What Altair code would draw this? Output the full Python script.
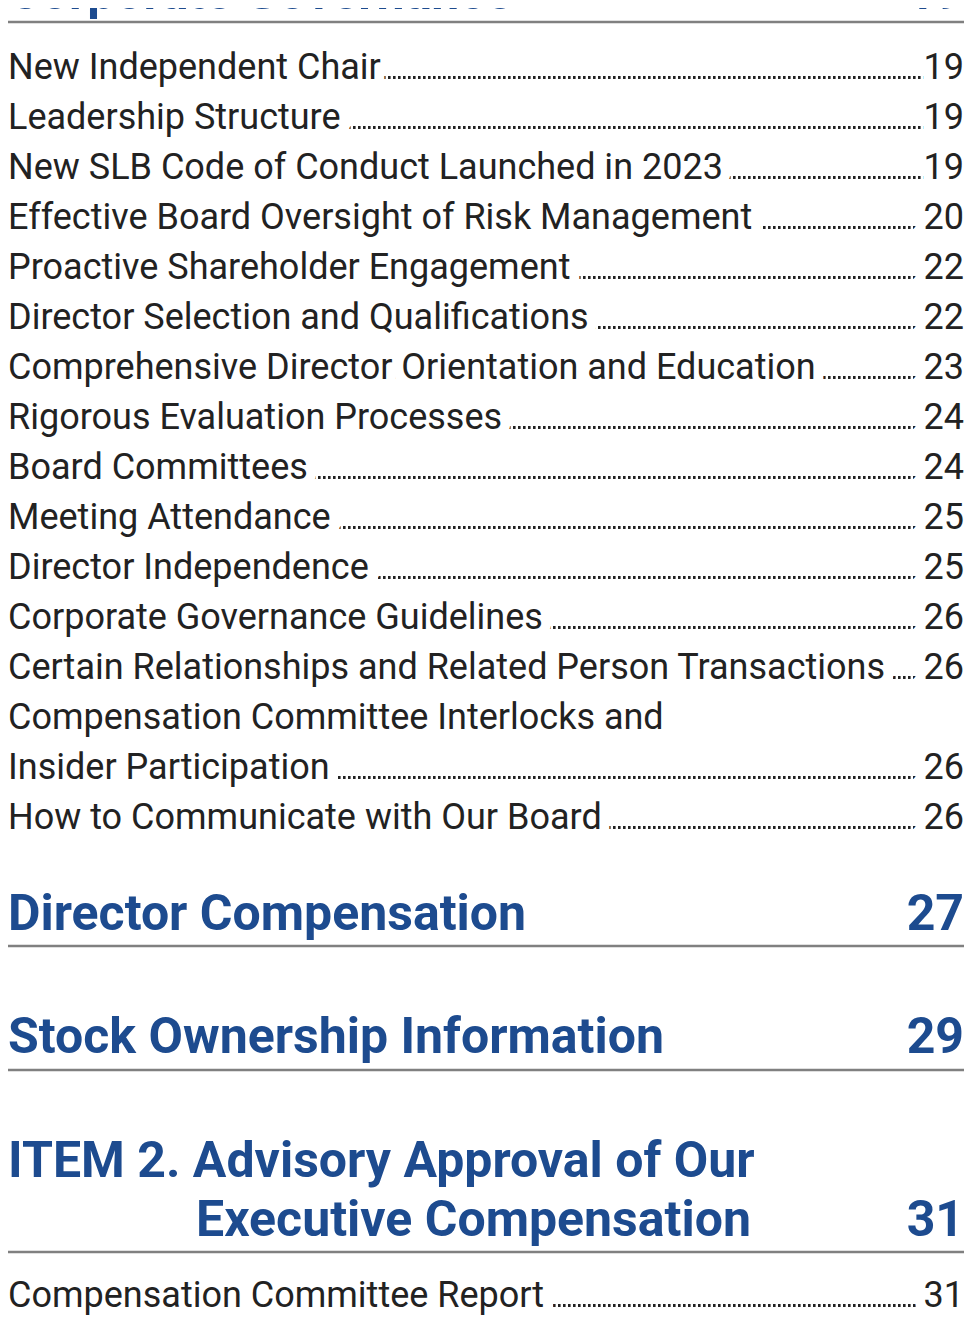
import pandas as pd
import altair as alt

# table of contents rows (page coordinates of each baseline)
entry_titles = [
    "New Independent Chair", "Leadership Structure",
    "New SLB Code of Conduct Launched in 2023",
    "Effective Board Oversight of Risk Management",
    "Proactive Shareholder Engagement", "Director Selection and Qualifications",
    "Comprehensive Director Orientation and Education",
    "Rigorous Evaluation Processes", "Board Committees", "Meeting Attendance",
    "Director Independence", "Corporate Governance Guidelines",
    "Certain Relationships and Related Person Transactions",
    "Compensation Committee Interlocks and", "Insider Participation",
    "How to Communicate with Our Board", "Compensation Committee Report",
]
entry_pages = ["19", "19", "19", "20", "22", "22", "23", "24", "24", "25",
               "25", "26", "26", "", "26", "26", "31"]
entry_y = [79, 129, 179, 229, 279, 329, 379, 429, 479, 529, 579, 629, 679,
           729, 779, 829, 1307]

heading_titles = ["Corporate Governance", "Director Compensation",
                  "Stock Ownership Information", "ITEM 2. Advisory Approval of Our"]
heading_pages = ["19", "27", "29", ""]
heading_y = [9, 930, 1053, 1177]
heading_rule_y = [22, 946, 1070, 1252]
sub_title = "Executive Compensation"
sub_page = "31"
sub_y = 1236

entries = pd.DataFrame({"title": entry_titles, "page": entry_pages, "y": entry_y})
heads = pd.DataFrame({"title": heading_titles, "page": heading_pages, "y": heading_y})
heads = pd.concat([heads, pd.DataFrame({"title": [""], "page": [sub_page], "y": [sub_y]})])
subs = pd.DataFrame({"title": [sub_title], "y": [sub_y]})
rules = pd.DataFrame({"y": heading_rule_y})

FONT = "Roboto"
INK = "#222222"
BLUE = "#1d4b8f"
ysc = alt.Scale(domain=[0, 1323], range=[-8, 1315])
Y = alt.Y("y:Q", scale=ysc, axis=None)

dots = alt.Chart(entries[entries.page != ""]).mark_rule(
    color=INK, strokeWidth=3, strokeDash=[2.6, 2.4]
).encode(x=alt.value(0), x2=alt.value(956), y=alt.Y("yd:Q", scale=ysc, axis=None)
).transform_calculate(yd="datum.y - 1.5")

def text_layers(df, size, color, weight, field, align, xval):
    base = alt.Chart(df)
    mask = base.mark_text(align=align, baseline="alphabetic", font=FONT, fontSize=size,
                          fontWeight=weight, fill="white", stroke="white", strokeWidth=20
                          ).encode(x=alt.value(xval), y=Y, text=f"{field}:N")
    ink = base.mark_text(align=align, baseline="alphabetic", font=FONT, fontSize=size,
                         fontWeight=weight, color=color
                         ).encode(x=alt.value(xval), y=Y, text=f"{field}:N")
    return mask + ink

e_title = text_layers(entries, 36, INK, "normal", "title", "left", 0)
e_page = text_layers(entries, 36, INK, "normal", "page", "right", 956)

h_title = alt.Chart(heads).mark_text(align="left", baseline="alphabetic", font=FONT,
                                     fontSize=50, fontWeight="bold", color=BLUE
                                     ).encode(x=alt.value(0), y=Y, text="title:N")
h_page = alt.Chart(heads).mark_text(align="right", baseline="alphabetic", font=FONT,
                                    fontSize=50, fontWeight="bold", color=BLUE
                                    ).encode(x=alt.value(956), y=Y, text="page:N")
s_title = alt.Chart(subs).mark_text(align="left", baseline="alphabetic", font=FONT,
                                    fontSize=50, fontWeight="bold", color=BLUE
                                    ).encode(x=alt.value(188), y=Y, text="title:N")

lines = alt.Chart(rules).mark_rule(color="#808080", strokeWidth=2.5).encode(
    x=alt.value(0), x2=alt.value(956), y=Y)

chart = alt.layer(dots, e_title, e_page, h_title, h_page, s_title, lines).properties(
    width=956, height=1307, autosize="none", padding=0
).configure_view(stroke=None)

chart.save("out.html", embed_options={"renderer": "svg", "actions": False})
